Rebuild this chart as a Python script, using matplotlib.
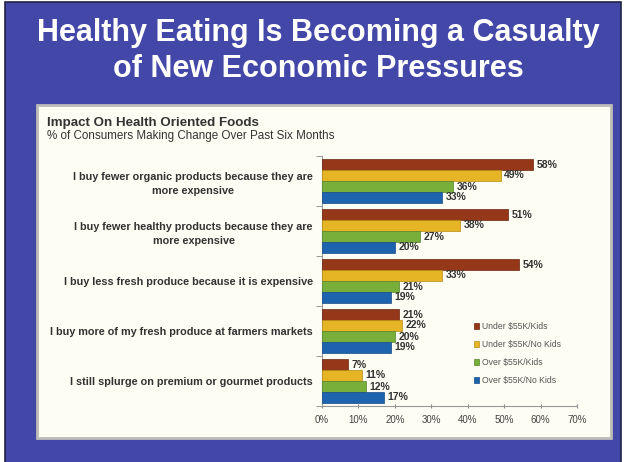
import matplotlib.pyplot as plt
from matplotlib.patches import Rectangle
import numpy as np

categories = ['I buy fewer organic products because they are\nmore expensive',
              'I buy fewer healthy products because they are\nmore expensive',
              'I buy less fresh produce because it is expensive',
              'I buy more of my fresh produce at farmers markets',
              'I still splurge on premium or gourmet products']
series = ['Under $55K/Kids', 'Under $55K/No Kids', 'Over $55K/Kids', 'Over $55K/No Kids']
under_kids = [58, 51, 54, 21, 7]
under_nokids = [49, 38, 33, 22, 11]
over_kids = [36, 27, 21, 20, 12]
over_nokids = [33, 20, 19, 19, 17]
xticks = [0, 10, 20, 30, 40, 50, 60, 70]

colors = ['#953819', '#E6B525', '#78AE3A', '#1E63AE']
edges = ['#6A2410', '#B88A10', '#55852A', '#174C88']

W, H = 626, 462
fig = plt.figure(figsize=(W / 100, H / 100), dpi=100)
fig.patch.set_facecolor('white')

def box(x0, y0, x1, y1, **kw):
    # pixel coords, origin top-left
    fig.patches.append(Rectangle((x0 / W, 1 - y1 / H), (x1 - x0) / W, (y1 - y0) / H,
                                 transform=fig.transFigure, **kw))

box(5, 2, 621, 470, facecolor='#4347A8', edgecolor='#222244', lw=1.2, zorder=0)
box(37, 105, 611, 438, facecolor='#FDFDF3', edgecolor='#BDBDB5', lw=2, zorder=1)

fig.text(318 / W, 1 - 51 / H, 'Healthy Eating Is Becoming a Casualty\nof New Economic Pressures',
         ha='center', va='center', color='white', fontsize=22, fontweight='bold',
         family='Liberation Sans', linespacing=1.25)
fig.text(47 / W, 1 - 123 / H, 'Impact On Health Oriented Foods', ha='left', va='center',
         color='#333333', fontsize=9.6, fontweight='bold', family='Liberation Sans')
fig.text(47 / W, 1 - 136 / H, '% of Consumers Making Change Over Past Six Months', ha='left',
         va='center', color='#333333', fontsize=8.4, family='Liberation Sans')

ax = fig.add_axes([322 / W, 1 - 406 / H, 255 / W, 250 / H])
ax.set_facecolor('none')
ax.set_zorder(2)

vals = [under_kids, under_nokids, over_kids, over_nokids]
y = np.arange(len(categories))
h = 0.22
for i, v in enumerate(vals):
    pos = y - 0.33 + i * h
    ax.barh(pos, v, height=h, color=colors[i], edgecolor=edges[i], lw=0.5,
            label=series[i], zorder=3)
    for p, val in zip(pos, v):
        ax.text(val + 1, p, f'{val}%', ha='left', va='center', fontsize=7.5,
                fontweight='bold', color='#333333', family='Liberation Sans')

ax.set_xlim(0, 70)
ax.set_ylim(4.5, -0.5)
ax.set_xticks(xticks)
ax.set_xticklabels([f'{t}%' for t in xticks], fontsize=7, color='#444444',
                   family='Liberation Sans')
ax.set_yticks(y)
ax.set_yticklabels(categories, fontsize=7.8, fontweight='bold', color='#333333',
                   family='Liberation Sans', ha='right', multialignment='center',
                   linespacing=1.45)
ax.tick_params(axis='y', length=0, pad=6.5)
ax.set_yticks(np.arange(-0.5, 5, 1), minor=True)
ax.tick_params(axis='y', which='minor', length=4, color='#888888')
ax.tick_params(axis='x', length=3, color='#888888', direction='inout', pad=5)
for s in ['top', 'right']:
    ax.spines[s].set_visible(False)
for s in ['left', 'bottom']:
    ax.spines[s].set_color('#999999')

leg = ax.legend(loc='center left', bbox_to_anchor=(0.565, 0.21), frameon=False,
                prop={'size': 6.2, 'family': 'Liberation Sans'}, labelcolor='#555555',
                handlelength=0.6, handleheight=0.6, labelspacing=1.05, handletextpad=0.4)

fig.savefig('out.png', dpi=100)
